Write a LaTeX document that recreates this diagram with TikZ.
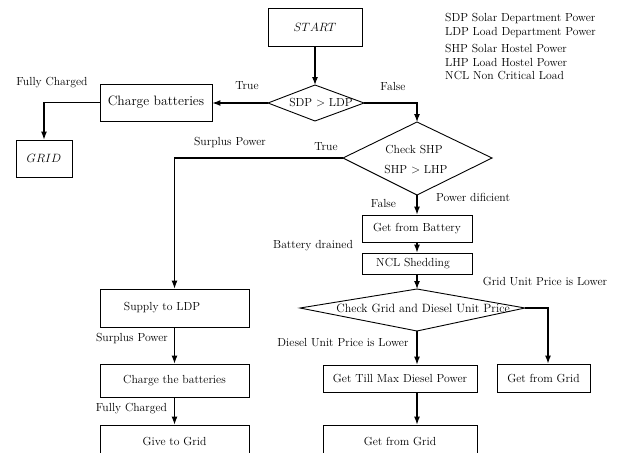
\documentclass[tikz,border=0pt]{standalone}
\usepackage{fontspec}
\usetikzlibrary{arrows.meta}
\begin{document}
\begin{tikzpicture}[x=1pt,y=-1pt,
  base/.style={font=\fontsize{11.7}{13}\selectfont},
  box/.style={draw, line width=0.9pt, inner sep=0pt, base},
  lbl/.style={inner sep=0pt, base},
  arr/.style={-{Latex[length=8pt,width=6pt]}, line width=1.1pt},
  dia/.style={draw, line width=0.9pt, line join=miter}]
\useasboundingbox (0,0) rectangle (617,452);

% boxes
\node[box, minimum width=94, minimum height=38] (start) at (315,27) {$START$};
\node[box, minimum width=112, minimum height=37, font=\fontsize{13.6}{15}\selectfont] (charge) at (156,102.5) {Charge batteries};
\node[box, minimum width=56, minimum height=37] (grid) at (44,158.5) {$GRID$};
\node[box, minimum width=149, minimum height=38] (supply) at (174.5,308) {Supply to LDP\hspace*{25pt}};
\node[box, minimum width=149, minimum height=33] (chargeb) at (174.5,380.5) {Charge the batteries};
\node[box, minimum width=149, minimum height=33] (give) at (174.5,441.5) {Give to Grid};
\node[box, minimum width=110, minimum height=27] (battery) at (417,228.5) {Get from Battery};
\node[box, minimum width=110, minimum height=21] (ncl) at (417,263.5) {NCL Shedding\hspace*{8pt}};
\node[box, minimum width=154, minimum height=27] (diesel) at (400,378.5) {Get Till Max Diesel Power};
\node[box, minimum width=93, minimum height=28] (gridr) at (543.5,378) {Get from Grid};
\node[box, minimum width=154, minimum height=33] (gridb) at (400,441.5) {Get from Grid};

% diamonds
\coordinate (aL) at (268,103); \coordinate (aT) at (315,85);
\coordinate (aR) at (364,103); \coordinate (aB) at (315,121);
\draw[dia] (aL) -- (aT) -- (aR) -- (aB) -- cycle;
\node[lbl] (atext) at (321,103) {SDP $>$ LDP};

\coordinate (bL) at (343,158); \coordinate (bT) at (417,122);
\coordinate (bR) at (492,158); \coordinate (bB) at (417,195);
\draw[dia] (bL) -- (bT) -- (bR) -- (bB) -- cycle;
\node[lbl] (btext1) at (414,150) {Check SHP};
\node[lbl] (btext2) at (416,170) {SHP $>$ LHP};

\coordinate (cL) at (300,308); \coordinate (cT) at (417,289);
\coordinate (cR) at (525,308); \coordinate (cB) at (417,331);
\draw[dia] (cL) -- (cT) -- (cR) -- (cB) -- cycle;
\node[lbl, font=\fontsize{12}{14}\selectfont] (ctext) at (423,308.5) {Check Grid and Diesel Unit Price};

% connectors
\draw[arr] (start.south) -- (aT);
\draw[arr] (aL) -- (charge.east |- aL);
\draw[arr] (aR) -| (bT);
\draw[arr] (charge.west) -| (grid.north);
\draw[arr] (bL) -| (supply.north);
\draw[arr] (supply.south) -- (chargeb.north);
\draw[arr] (chargeb.south) -- (give.north);
\draw[arr] (bB) -- (battery.north);
\draw[arr] (battery.south) -- (ncl.north);
\draw[arr] (ncl.south) -- (cT);
\draw[arr] (cB) -- (cB |- diesel.north);
\draw[arr] (cR) -| ([xshift=4.5pt]gridr.north);
\draw[arr] (diesel.south -| cB) -- (cB |- gridb.north);

% labels
\node[lbl] (l1) at (247,86) {True};
\node[lbl] (l2) at (393,86) {False};
\node[lbl] (l3) at (52,83) {Fully Charged};
\node[lbl] (l4) at (230,143) {Surplus Power};
\node[lbl] (l5) at (326,147) {True};
\node[lbl] (l6) at (383.5,203) {False};
\node[lbl] (l7) at (473,197) {Power dificient};
\node[lbl] (l8) at (313,246) {Battery drained};
\node[lbl] (l9) at (545,281) {Grid Unit Price is Lower};
\node[lbl] (l10) at (343,342.5) {Diesel Unit Price is Lower};
\node[lbl] (l11) at (132,339) {Surplus Power};
\node[lbl] (l12) at (131.5,409) {Fully Charged};

% legend
\node[lbl, anchor=west] (g1) at (445,18.3) {SDP Solar Department Power};
\node[lbl, anchor=west] (g2) at (445,32.3) {LDP Load Department Power};
\node[lbl, anchor=west] (g3) at (445,48.3) {SHP Solar Hostel Power};
\node[lbl, anchor=west] (g4) at (445,62.3) {LHP Load Hostel Power};
\node[lbl, anchor=west] (g5) at (445,76) {NCL Non Critical Load};
\end{tikzpicture}
\end{document}
